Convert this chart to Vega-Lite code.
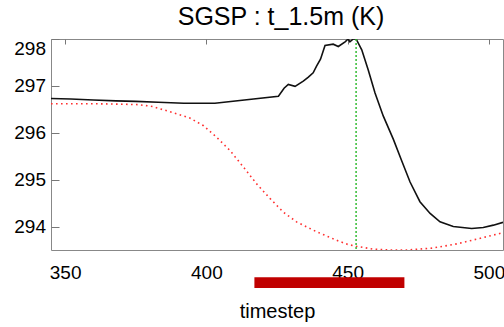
{
  "$schema": "https://vega.github.io/schema/vega-lite/v6.json",
  "width": 452,
  "height": 211,
  "autosize": {"type": "none"},
  "padding": {"left": 51, "top": 39, "right": 1, "bottom": 77},
  "title": {"text": "SGSP : t_1.5m (K)", "font": "Liberation Sans", "fontSize": 25, "fontWeight": "normal", "color": "#000", "anchor": "middle", "frame": "group", "baseline": "alphabetic", "offset": 11, "dx": 4, "dy": 23},
  "config": {
    "view": {"stroke": "#888", "strokeWidth": 1},
    "axis": {"grid": true, "gridColor": "#777", "gridOpacity": 1, "gridWidth": 1, "domain": false, "ticks": false, "labelFont": "Liberation Sans", "titleFont": "Liberation Sans", "labelColor": "#000", "titleColor": "#000", "labelFontSize": 19, "titleFontSize": 20, "titleFontWeight": "normal"}
  },
  "datasets": {
    "black": [
      {"t": 345, "v": 296.73}, {"t": 352, "v": 296.72}, {"t": 360, "v": 296.70}, {"t": 368, "v": 296.68}, {"t": 375, "v": 296.67}, {"t": 383, "v": 296.65}, {"t": 392, "v": 296.63}, {"t": 403, "v": 296.63}, {"t": 425.5, "v": 296.78}, {"t": 427.5, "v": 296.95}, {"t": 429, "v": 297.03}, {"t": 431.4, "v": 296.99}, {"t": 434.3, "v": 297.10}, {"t": 436, "v": 297.18}, {"t": 437.8, "v": 297.28}, {"t": 439, "v": 297.42}, {"t": 440.4, "v": 297.57}, {"t": 442, "v": 297.86}, {"t": 444.9, "v": 297.89}, {"t": 446.7, "v": 297.84}, {"t": 449.1, "v": 297.94}, {"t": 450.2, "v": 298.0}, {"t": 450.8, "v": 297.94}, {"t": 452, "v": 298.0}, {"t": 453, "v": 298.0}, {"t": 455, "v": 297.77}, {"t": 457.3, "v": 297.34}, {"t": 459.7, "v": 296.85}, {"t": 462.6, "v": 296.36}, {"t": 466.2, "v": 295.86}, {"t": 469.1, "v": 295.41}, {"t": 472.1, "v": 294.95}, {"t": 475.6, "v": 294.53}, {"t": 479.2, "v": 294.28}, {"t": 482.7, "v": 294.10}, {"t": 487.4, "v": 294.0}, {"t": 493.9, "v": 293.96}, {"t": 498, "v": 293.98}, {"t": 501.6, "v": 294.03}, {"t": 505, "v": 294.09}
    ],
    "red": [
      {"t": 345, "v": 296.62}, {"t": 360, "v": 296.62}, {"t": 370, "v": 296.61}, {"t": 376, "v": 296.60}, {"t": 381, "v": 296.56}, {"t": 387, "v": 296.45}, {"t": 394, "v": 296.32}, {"t": 399, "v": 296.15}, {"t": 403.7, "v": 295.90}, {"t": 408.4, "v": 295.62}, {"t": 413.1, "v": 295.27}, {"t": 417.8, "v": 294.91}, {"t": 422.5, "v": 294.60}, {"t": 427.2, "v": 294.31}, {"t": 431.9, "v": 294.10}, {"t": 439, "v": 293.89}, {"t": 446, "v": 293.71}, {"t": 450, "v": 293.62}, {"t": 453, "v": 293.58}, {"t": 459, "v": 293.52}, {"t": 465, "v": 293.50}, {"t": 471, "v": 293.50}, {"t": 480, "v": 293.54}, {"t": 488.6, "v": 293.63}, {"t": 497, "v": 293.75}, {"t": 505, "v": 293.87}
    ],
    "marker": [{"t": 453}],
    "window": [{"start": 417, "end": 470.1}]
  },
  "resolve": {"axis": {"x": "independent", "y": "independent"}},
  "layer": [
    {
      "data": {"name": "black"},
      "mark": {"type": "line", "color": "#111", "strokeWidth": 1.6, "clip": true},
      "encoding": {
        "x": {"field": "t", "type": "quantitative", "scale": {"domain": [345, 505], "nice": false, "zero": false},
              "axis": {"orient": "bottom", "values": [350, 400, 450, 500], "gridDash": [5, 1000], "labelPadding": 13, "title": "timestep", "titleY": 67, "titleBaseline": "alphabetic"}},
        "y": {"field": "v", "type": "quantitative", "scale": {"domain": [293.5, 298], "nice": false, "zero": false},
              "axis": {"orient": "left", "values": [294, 295, 296, 297, 298], "gridDash": [8, 1000], "labelPadding": 5.5, "labelFlush": 1, "title": null}}
      }
    },
    {
      "data": {"name": "red"},
      "mark": {"type": "line", "color": "#ff3030", "strokeWidth": 1.6, "strokeDash": [1.6, 3.4], "clip": true},
      "encoding": {
        "x": {"field": "t", "type": "quantitative", "axis": {"orient": "top", "values": [350, 400, 450, 500], "gridDash": [5, 1000], "labels": false, "title": null}},
        "y": {"field": "v", "type": "quantitative", "axis": {"orient": "right", "values": [294, 295, 296, 297, 298], "gridDash": [8, 1000], "labels": false, "title": null}}
      }
    },
    {
      "data": {"name": "black"},
      "mark": {"type": "line", "strokeOpacity": 0, "clip": true},
      "encoding": {
        "x": {"field": "t", "type": "quantitative", "axis": {"orient": "bottom", "values": [360, 370, 380, 390, 410, 420, 430, 440, 460, 470, 480, 490], "gridDash": [3, 1000], "labels": false, "title": null}},
        "y": {"field": "v", "type": "quantitative", "axis": {"orient": "left", "values": [293.6, 293.7, 293.8, 293.9, 294.1, 294.2, 294.3, 294.4, 294.5, 294.6, 294.7, 294.8, 294.9, 295.1, 295.2, 295.3, 295.4, 295.5, 295.6, 295.7, 295.8, 295.9, 296.1, 296.2, 296.3, 296.4, 296.5, 296.6, 296.7, 296.8, 296.9, 297.1, 297.2, 297.3, 297.4, 297.5, 297.6, 297.7, 297.8, 297.9], "gridDash": [5, 1000], "labels": false, "title": null}}
      }
    },
    {
      "data": {"name": "red"},
      "mark": {"type": "line", "strokeOpacity": 0, "clip": true},
      "encoding": {
        "x": {"field": "t", "type": "quantitative", "axis": {"orient": "top", "values": [360, 370, 380, 390, 410, 420, 430, 440, 460, 470, 480, 490], "gridDash": [3, 1000], "labels": false, "title": null}},
        "y": {"field": "v", "type": "quantitative", "axis": {"orient": "right", "values": [293.6, 293.7, 293.8, 293.9, 294.1, 294.2, 294.3, 294.4, 294.5, 294.6, 294.7, 294.8, 294.9, 295.1, 295.2, 295.3, 295.4, 295.5, 295.6, 295.7, 295.8, 295.9, 296.1, 296.2, 296.3, 296.4, 296.5, 296.6, 296.7, 296.8, 296.9, 297.1, 297.2, 297.3, 297.4, 297.5, 297.6, 297.7, 297.8, 297.9], "gridDash": [5, 1000], "labels": false, "title": null}}
      }
    },
    {
      "data": {"name": "marker"},
      "mark": {"type": "rule", "color": "#33bb33", "strokeWidth": 1.5, "strokeDash": [2, 2]},
      "encoding": {
        "x": {"field": "t", "type": "quantitative", "axis": null}
      }
    },
    {
      "data": {"name": "window"},
      "mark": {"type": "rect", "color": "#c00000", "clip": false},
      "encoding": {
        "x": {"field": "start", "type": "quantitative", "axis": null},
        "x2": {"field": "end"},
        "y": {"datum": 292.92, "type": "quantitative", "axis": null},
        "y2": {"datum": 292.69}
      }
    }
  ]
}
